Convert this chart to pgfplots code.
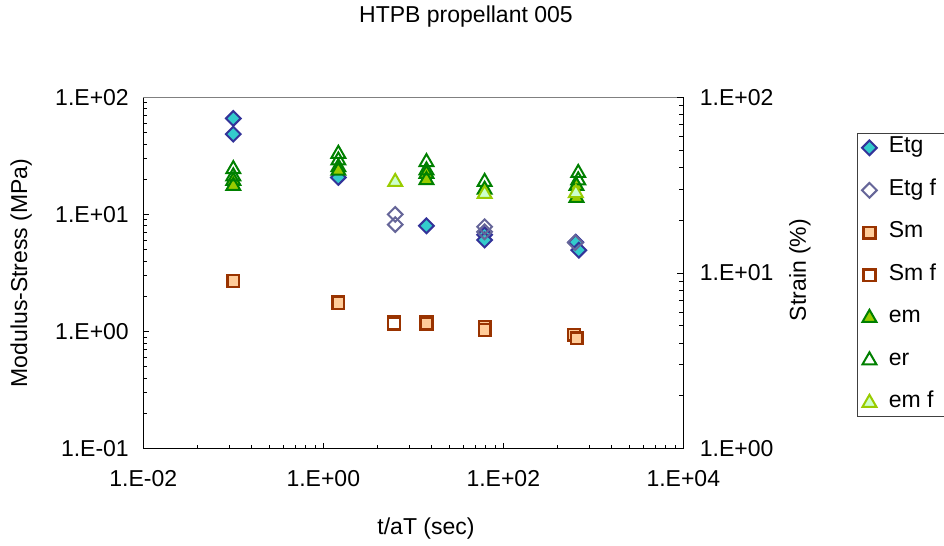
\documentclass[border=0pt]{standalone}
\usepackage{pgfplots}
\pgfplotsset{compat=1.18}
\usepackage{fontspec}
\setmainfont{Liberation Sans}

\definecolor{etgfill}{RGB}{51,204,204}
\definecolor{etgedge}{RGB}{51,51,153}
\definecolor{etgfedge}{RGB}{102,102,153}
\definecolor{smfill}{RGB}{255,204,153}
\definecolor{smedge}{RGB}{153,51,0}
\definecolor{emfill}{RGB}{153,204,0}
\definecolor{emedge}{RGB}{0,128,0}
\definecolor{emffill}{RGB}{204,255,204}
\definecolor{emfedge}{RGB}{153,204,0}

\newcommand{\chartfont}{\fontsize{23bp}{27bp}\selectfont}

% marker styles of the seven series
\tikzset{
  etgmark/.style={only marks, mark=square*, color=etgedge, mark size=5.2bp,
    mark options={rotate=45, fill=etgfill, line width=2bp}},
  etgfmark/.style={only marks, mark=square, color=etgfedge, mark size=5.2bp,
    mark options={rotate=45, line width=2bp}},
  smmark/.style={only marks, mark=square*, color=smedge, mark size=5.9bp,
    mark options={fill=smfill, line width=2.4bp}},
  smfmark/.style={only marks, mark=square*, color=smedge, mark size=5.9bp,
    mark options={fill=white, line width=2.4bp}},
  emmark/.style={only marks, mark=triangle*, color=emedge, mark size=8bp,
    mark options={fill=emfill, line width=2bp}},
  ermark/.style={only marks, mark=triangle, color=emedge, mark size=8bp,
    mark options={line width=2bp}},
  emfmark/.style={only marks, mark=triangle*, color=emfedge, mark size=8bp,
    mark options={fill=emffill, line width=2bp}},
}

\begin{document}
\begin{tikzpicture}

% modulus and stress, left axis
\begin{axis}[
  width=540bp, height=351.4bp, scale only axis,
  at={(143.3bp,97.3bp)}, anchor=south west,
  xmode=log, ymode=log,
  xmin=0.01, xmax=10000, ymin=0.1, ymax=100,
  axis lines*=left,
  axis line style={black, line width=1.4bp},
  tick align=inside,
  major tick length=6bp, minor tick length=4bp,
  tick style={black, line width=0.8bp},
  tick label style={font=\chartfont},
  label style={font=\chartfont},
  clip=false,
  xtick={0.01,1,100,10000},
  xticklabels={1.E-02,1.E+00,1.E+02,1.E+04},
  minor xtick={0.04,0.09,0.16,0.25,0.36,0.49,0.64,0.81,
               4,9,16,25,36,49,64,81,
               400,900,1600,2500,3600,4900,6400,8100},
  ytick={0.1,1,10,100},
  yticklabels={1.E-01,1.E+00,1.E+01,1.E+02},
  minor ytick={0.2,0.3,0.4,0.5,0.6,0.7,0.8,0.9,
               2,3,4,5,6,7,8,9,20,30,40,50,60,70,80,90},
  xticklabel style={yshift=-18bp},
  yticklabel style={xshift=-11bp},
  xlabel={t/aT (sec)},
  ylabel={Modulus-Stress (MPa)},
  xlabel style={at={(axis description cs:0.5235,-0.2270)}, anchor=center},
  ylabel style={at={(axis description cs:-0.2260,0.5)}, anchor=center},
  title={HTPB propellant 005},
  title style={at={(axis description cs:0.5976,1.212)}, anchor=center, font=\chartfont},
]
\addplot[etgmark] coordinates {
  (0.1,66) (0.1,48.5) (1.47,20.7) (14,8.0) (62,6.7) (62,6.05) (640,5.8) (690,4.95)
};
\addplot[etgfmark] coordinates {
  (6.3,10.0) (6.3,8.2) (62,7.85) (62,7.1) (630,5.75)
};
\addplot[smmark] coordinates {
  (0.1,2.7) (1.47,1.79) (1.47,1.75) (14,1.21) (14,1.17) (62,1.1) (62,1.03) (611,0.94) (655,0.875)
};
\addplot[smfmark] coordinates {
  (6.1,1.2) (6.1,1.17)
};
\draw[gray, line width=1bp] (rel axis cs:0,1) -- (rel axis cs:1,1);
\end{axis}

% strain, right axis
\begin{axis}[
  width=540bp, height=351.4bp, scale only axis,
  at={(143.3bp,97.3bp)}, anchor=south west,
  xmode=log, ymode=log,
  xmin=0.01, xmax=10000, ymin=1, ymax=100,
  axis x line=none,
  axis y line*=right,
  axis line style={black, line width=1.4bp},
  tick align=inside,
  major tick length=6bp, minor tick length=4bp,
  tick style={black, line width=0.8bp},
  tick label style={font=\chartfont},
  label style={font=\chartfont},
  clip=false,
  ytick={1,10,100},
  yticklabels={1.E+00,1.E+01,1.E+02},
  minor ytick={2,3,4,5,6,7,8,9,20,30,40,50,60,70,80,90},
  yticklabel style={xshift=13bp},
  ylabel={Strain (\%)},
  ylabel style={at={(axis description cs:1.216,0.5085)}, anchor=center},
  legend cell align=left,
  legend style={
    at={(1.3211,0.8973)}, anchor=north west,
    draw=black!75, line width=0.8bp, fill=white,
    font=\chartfont,
    inner xsep=5bp, inner ysep=4bp,
    row sep=22.5bp, column sep=12bp,
    nodes={inner sep=0pt, text height=15bp, text depth=5bp},
  },
]
\addlegendimage{etgmark}
\addlegendentry{\makebox[70bp][l]{Etg}}
\addlegendimage{etgfmark}
\addlegendentry{\makebox[70bp][l]{Etg f}}
\addlegendimage{smmark}
\addlegendentry{\makebox[70bp][l]{Sm}}
\addlegendimage{smfmark}
\addlegendentry{\makebox[70bp][l]{Sm f}}
\addplot[emmark] coordinates {
  (0.1,33.5) (0.1,31.3) (1.47,40) (1.47,38.2) (14,36.7) (14,33.8) (62,29.8) (650,31.3) (650,26.8)
};
\addlegendentry{\makebox[70bp][l]{em}}
\addplot[ermark] coordinates {
  (0.1,39) (0.1,35.5) (1.47,47.7) (1.47,43.7) (14,42.8) (14,38.4) (62,33.0) (680,37.1) (680,33.7)
};
\addlegendentry{\makebox[70bp][l]{er}}
\addplot[emfmark] coordinates {
  (6.3,33) (62,28.2) (640,28.5)
};
\addlegendentry{\makebox[70bp][l]{em f}}
\end{axis}

\pgfresetboundingbox
\path[use as bounding box] (0,0) rectangle (944bp,546bp);
\end{tikzpicture}
\end{document}
